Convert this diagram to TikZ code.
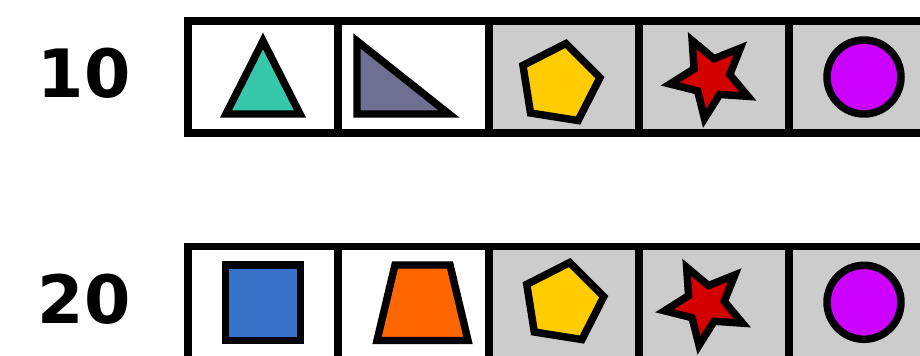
\documentclass[tikz,border=0pt]{standalone}
\usepackage{fontspec}
\setsansfont{DejaVu Sans}
\usepackage{xcolor}
\usepackage{tikz}
\usetikzlibrary{positioning}

\definecolor{cellgray}{HTML}{CCCCCC}
\definecolor{triteal}{HTML}{37C8AB}
\definecolor{rtslate}{HTML}{6F6F91}
\definecolor{pentyel}{HTML}{FFCC00}
\definecolor{starred}{HTML}{D40000}
\definecolor{circpur}{HTML}{CC00FF}
\definecolor{sqblue}{HTML}{3771C8}
\definecolor{trporng}{HTML}{FF6600}

\begin{document}
\begin{tikzpicture}[
  x=0.75pt, y=0.75pt,
  rowlabel/.style={font=\sffamily\bfseries\fontsize{50}{54}\selectfont, inner sep=0pt},
  grid/.style={draw=black, line width=5.6pt, line join=miter},
  shp/.style={draw=black, line width=5.6pt, line join=miter},
]
\useasboundingbox (0,0) rectangle (920,355);
\clip (0,0) rectangle (920,355);
%% Row labels
\node[rowlabel] (R10) at (84,281.5) {10};
\node[rowlabel] (R20) at (84,56) {20};
%% Cells
\foreach \yt/\yb in {334/222, 108.5/-12} {
  \fill[cellgray] (489,\yt) rectangle (939,\yb);
  \draw[grid] (188,\yt) rectangle (939,\yb);
  \foreach \xd in {338,489,639,789}
    \draw[grid] (\xd,\yt) -- (\xd,\yb);
}
%% Row 10
\draw[shp, fill=triteal] (263,314) -- (226,241) -- (300,241) -- cycle;
\draw[shp, fill=rtslate] (357,314) -- (357,241) -- (449,241) -- cycle;
\begin{scope}[shift={(559.5,271)}]
  \draw[shp, fill=pentyel] (9:41) -- (81:41) -- (153:41) -- (225:41) -- (297:41) -- cycle;
\end{scope}
\begin{scope}[shift={(711,277.5)}]
  \draw[shp, fill=starred] (9:19)
    \foreach \a in {0,72,144,216} { -- (45+\a:41.5) -- (81+\a:19) } -- (333:41.5) -- cycle;
\end{scope}
\draw[shp, fill=circpur] (864,278) circle[radius=37];
%% Row 20
\draw[shp, fill=sqblue] (225.5,90) rectangle (300.5,14.5);
\draw[shp, fill=trporng] (395,90) -- (450,90) -- (468,14.5) -- (377,14.5) -- cycle;
\begin{scope}[shift={(563.3,52)}]
  \draw[shp, fill=pentyel] (9:41) -- (81:41) -- (153:41) -- (225:41) -- (297:41) -- cycle;
\end{scope}
\begin{scope}[shift={(705.5,50.7)}]
  \draw[shp, fill=starred] (9:19)
    \foreach \a in {0,72,144,216} { -- (45+\a:41.5) -- (81+\a:19) } -- (333:41.5) -- cycle;
\end{scope}
\draw[shp, fill=circpur] (864,52.7) circle[radius=37];
\end{tikzpicture}
\end{document}
